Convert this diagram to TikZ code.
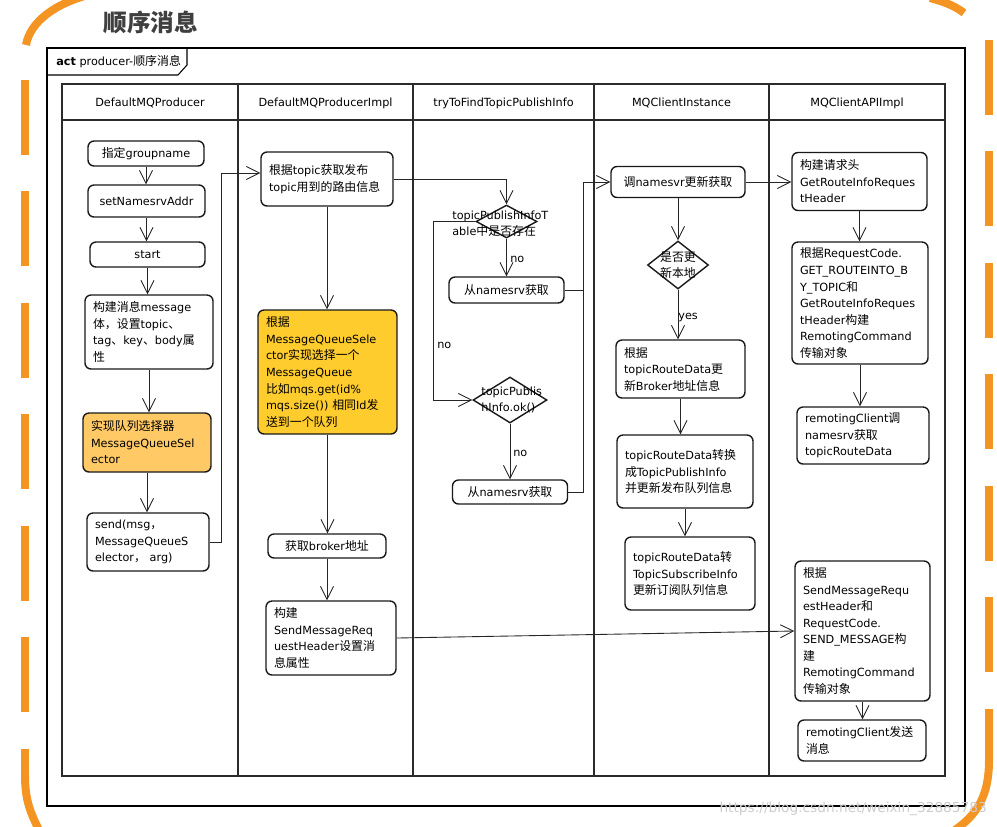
\documentclass[tikz,border=0pt]{standalone}
\usepackage{fontspec}
\setmainfont{DejaVu Sans}
\newfontfamily\zhfont[Scale=1.06]{Noto Sans CJK SC}
\usetikzlibrary{arrows.meta,shapes.geometric}

% chinese runs switch to Noto Sans CJK by themselves
\XeTeXinterchartokenstate=1
\chardef\zhclass=9
\newcount\zhcnt
\zhcnt=32 \loop\XeTeXcharclass\zhcnt=0 \ifnum\zhcnt<126 \advance\zhcnt by 1 \repeat
\zhcnt="3000 \loop\XeTeXcharclass\zhcnt=\zhclass \ifnum\zhcnt<"303F \advance\zhcnt by 1 \repeat
\zhcnt="4E00 \loop\XeTeXcharclass\zhcnt=\zhclass \ifnum\zhcnt<"9FFF \advance\zhcnt by 1 \repeat
\zhcnt="FF00 \loop\XeTeXcharclass\zhcnt=\zhclass \ifnum\zhcnt<"FFEF \advance\zhcnt by 1 \repeat
\XeTeXinterchartoks 0 \zhclass = {\begingroup\zhfont}
\XeTeXinterchartoks 4095 \zhclass = {\begingroup\zhfont}
\XeTeXinterchartoks \zhclass 0 = {\endgroup}
\XeTeXinterchartoks \zhclass 4095 = {\endgroup}

\definecolor{orangeline}{HTML}{F39423}
\definecolor{selfill}{HTML}{FFC966}
\definecolor{pickfill}{HTML}{FFCC2E}
\definecolor{titlegray}{HTML}{3F3F3F}
\definecolor{lanegray}{HTML}{2B2B2B}

\begin{document}
\begin{tikzpicture}[x=0.02cm, y=-0.02cm,
  font=\fontsize{6.4}{9.4}\selectfont,
  box/.style={draw=black!90, line width=0.8pt, rounded corners=0.12cm, fill=white, align=left, inner xsep=0.16cm, inner ysep=0.06cm},
  single/.style={box, align=center},
  hl/.style={box, fill=#1},
  decision/.style={draw=black!90, line width=0.8pt, diamond, inner sep=0pt},
  link/.style={draw=black!85, line width=0.5pt},
  flow/.style={link, -{Straight Barb[length=0.26cm, width=0.26cm]}},
  lane/.style={draw=lanegray, line width=1.1pt},
  lbl/.style={inner sep=0pt, anchor=west},
  deco/.style={draw=orangeline, line width=0.16cm}]
\useasboundingbox (0,0) rectangle (997,826);
\clip (0,0) rectangle (997,826);

% orange hand frame
\draw[deco] (26,45) .. controls (30,22) and (55,3) .. (92,-6);
\draw[deco, dash pattern=on 1.5cm off 0.73cm] (25,80) -- (25,713);
\draw[deco] (25,749) -- (25,775) .. controls (25,800) and (30,812) .. (40,832);
\draw[deco] (930,-2) .. controls (945,2) and (955,6) .. (964,13);
\draw[deco, dash pattern=on 1.5cm off 0.73cm] (989,40) -- (989,674);
\draw[deco] (989,709) -- (989,760) .. controls (989,795) and (978,815) .. (952,832);

\node[lbl, text=titlegray, font=\fontsize{12.7}{15}\selectfont\bfseries] (title) at (103,22) {顺序消息};

% activity frame
\draw[line width=0.6pt] (47,48) rectangle (965,806);
\draw[line width=0.6pt] (47,75) -- (178,75) -- (187,65) -- (187,48);
\node[lbl] (act) at (56,62) {{\bfseries act} producer-顺序消息};

% swimlanes
\draw[lane] (62,84) rectangle (945,776);
\draw[lane] (62,120) -- (945,120);
\foreach \x in {238,413,594,769} \draw[lane] (\x,84) -- (\x,776);
\node (h1) at (150,103) {DefaultMQProducer};
\node (h2) at (325.5,103) {DefaultMQProducerImpl};
\node (h3) at (503.5,103) {tryToFindTopicPublishInfo};
\node (h4) at (681.5,103) {MQClientInstance};
\node (h5) at (857,103) {MQClientAPIImpl};

% DefaultMQProducer
\node[single, minimum width=2.32cm, minimum height=0.5cm] (n1) at (146,153.5) {指定groupname};
\node[single, minimum width=2.34cm, minimum height=0.64cm] (n2) at (146.5,201) {setNamesrvAddr};
\node[single, minimum width=2.3cm, minimum height=0.5cm] (n3) at (147.5,254.5) {start};
\node[box, text width=2.24cm, minimum height=1.48cm] (n4) at (149,332) {构建消息message\\体，设置topic、\\tag、key、body属\\性};
\node[hl=selfill, text width=2.24cm, minimum height=1.18cm] (n5) at (147,442.5) {实现队列选择器\\MessageQueueSel\\ector};
\node[box, text width=2.12cm, minimum height=1.16cm] (n6) at (148,542) {send(msg，\\MessageQueueS\\elector， arg)};

% DefaultMQProducerImpl
\node[box, text width=2.32cm, minimum height=1.08cm] (m1) at (327,179) {根据topic获取发布\\topic用到的路由信息};
\node[hl=pickfill, text width=2.46cm, minimum height=2.48cm] (m2) at (327.5,372) {根据\\MessageQueueSele\\ctor实现选择一个\\MessageQueue\\比如mqs.get(id\%\\mqs.size()) 相同Id发\\送到一个队列};
\node[single, minimum width=2.36cm, minimum height=0.48cm] (m3) at (327,546) {获取broker地址};
\node[box, text width=2.28cm, minimum height=1.48cm] (m4) at (331,638) {构建\\SendMessageReq\\uestHeader设置消\\息属性};

% tryToFindTopicPublishInfo
\node[decision, minimum width=1.22cm, minimum height=0.66cm] (d1) at (506.5,221.5) {};
\node[lbl, align=left] (d1t) at (452,223.5) {topicPublishInfoT\\able中是否存在};
\node[single, minimum width=2.3cm, minimum height=0.52cm] (a1) at (506.5,290) {从namesrv获取};
\node[decision, minimum width=1.48cm, minimum height=0.92cm] (d2) at (510,400) {};
\node[lbl, align=left] (d2t) at (481,400) {topicPublis\\hInfo.ok()};
\node[single, minimum width=2.3cm, minimum height=0.48cm] (a2) at (510,492) {从namesrv获取};
\node[lbl] (no1) at (510,259) {no};
\node[lbl] (no2) at (437,345) {no};
\node[lbl] (no3) at (513,453) {no};

% MQClientInstance
\node[single, minimum width=2.68cm, minimum height=0.62cm] (c1) at (678,182) {调namesvr更新获取};
\node[decision, minimum width=1.22cm, minimum height=0.96cm] (d3) at (678,265) {};
\node[align=center, inner sep=0pt] (d3t) at (678,265) {是否更\\新本地};
\node[lbl] (yes) at (678,318) {yes};
\node[box, text width=2.26cm, minimum height=1.16cm] (c2) at (680.5,369) {根据\\topicRouteData更\\新Broker地址信息};
\node[box, text width=2.4cm, minimum height=1.46cm] (c3) at (685,471.5) {topicRouteData转换\\成TopicPublishInfo\\并更新发布队列信息};
\node[box, text width=2.28cm, minimum height=1.46cm] (c4) at (690,573.5) {topicRouteData转\\TopicSubscribeInfo\\更新订阅队列信息};

% MQClientAPIImpl
\node[box, text width=2.38cm, minimum height=1.16cm] (e1) at (859.5,181.5) {构建请求头\\GetRouteInfoReques\\tHeader};
\node[box, text width=2.4cm, minimum height=2.44cm] (e2) at (860,303) {根据RequestCode.\\GET\_ROUTEINTO\_B\\Y\_TOPIC和\\GetRouteInfoReques\\tHeader构建\\RemotingCommand\\传输对象};
\node[box, text width=2.32cm, minimum height=1.14cm] (e3) at (863,435.5) {remotingClient调\\namesrv获取\\topicRouteData};
\node[box, text width=2.38cm, minimum height=2.8cm] (e4) at (862.5,631) {根据\\SendMessageRequ\\estHeader和\\RequestCode.\\SEND\_MESSAGE构\\建\\RemotingCommand\\传输对象};
\node[box, text width=2.24cm, minimum height=0.82cm] (e5) at (862,740.5) {remotingClient发送\\消息};

% flows
\foreach \a/\b in {n1/n2,n2/n3,n3/n4,n4/n5,n5/n6,m1/m2,m2/m3,m3/m4,c2/c3,c3/c4,e1/e2,e2/e3,e4/e5}
  \draw[flow] (\a.south) -- (\a.south |- \b.north);
\coordinate (m1in) at ([yshift=0.12cm]m1.west);
\draw[flow] (n6.east) -- ++(12,0) |- (m1in);
\draw[flow] (m1.east) -| (d1.north);
\draw[flow] (d1.south) -- (a1.north);
\draw[flow] (d1.west) -- ++(-42,0) |- (d2.west);
\draw[flow] (d2.south) -- (a2.north);
\coordinate (bus) at (583,182);
\draw[flow] (a2.east) -| (bus) -- (c1.west);
\draw[link] (a1.east) -- (a1.east -| bus);
\draw[flow] (c1.east) -- (c1.east -| e1.west);
\draw[flow] (c1.south) -- (d3.north);
\draw[flow] (d3.south) -- (d3.south |- c2.north);
\draw[flow] (m4.east) -- (e4.west);

\node[anchor=east, text=black!20, font=\fontsize{7.8}{9}\selectfont] (wm) at (993,809) {https://blog.csdn.net/weixin\_32885783};
\end{tikzpicture}
\end{document}
